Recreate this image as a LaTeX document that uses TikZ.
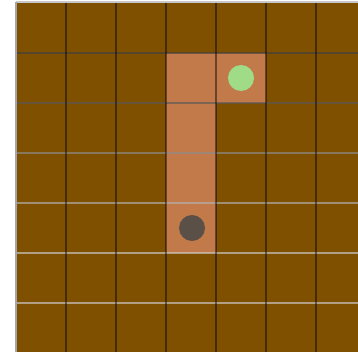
\documentclass[tikz,border=0pt]{standalone}
\usepackage{tikz}
\definecolor{soilbrown}{RGB}{127,80,0}
\definecolor{pathorange}{RGB}{194,122,74}
\definecolor{goalgreen}{RGB}{160,220,136}
\definecolor{agentgray}{RGB}{90,80,72}
\definecolor{rimgray}{RGB}{200,200,200}

\begin{document}
\begin{tikzpicture}[
  x=1pt, y=-1pt,
  cellline/.style={line width=1.4pt},
  token/.style={circle, minimum size=26pt, inner sep=0pt},
  ]
  \useasboundingbox (0,0) rectangle (358,352);
  \begin{scope}
    \clip (0,0) rectangle (358,352);
    % board
    \fill[soilbrown] (16,3) rectangle (360,360);
    % visited cells
    \fill[pathorange] (166,53) rectangle (216,253);
    \fill[pathorange] (216,53) rectangle (266,103);
    % rows: darker at the top, paler further down
    \foreach \yy/\shade in {53/75,103/65,153/45,203/30,253/20,303/20}
      \draw[cellline, black!\shade!white, opacity=0.65] (16,\yy) -- (360,\yy);
    % columns
    \foreach \xx in {66,116,166,216,266,316}
      \draw[cellline, black, opacity=0.45] (\xx,3) -- (\xx,360);
    % outer rim
    \draw[cellline, rimgray] (16,2) -- (360,2);
    \draw[cellline, gray!70] (16,2) -- (16,360);
  \end{scope}
  % goal and agent
  \node[token, fill=goalgreen] (goal) at (241,78) {};
  \node[token, fill=agentgray] (agent) at (192,228) {};
\end{tikzpicture}
\end{document}
